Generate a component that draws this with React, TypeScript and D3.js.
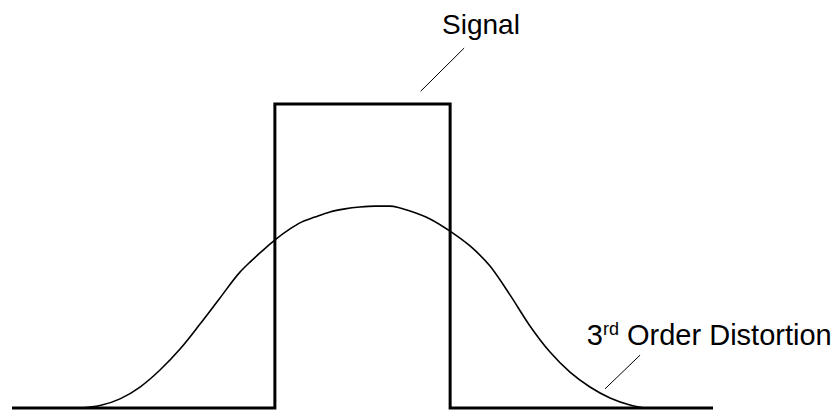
import React, { useEffect, useRef } from 'react'
import * as d3 from 'd3'

// signal: ideal rectangular band (x in arbitrary frequency units, y relative amplitude)
const signalX = [0, 37.5, 37.5, 62.5, 62.5, 100]
const signalY = [0, 0, 1, 1, 0, 0]

// 3rd order distortion spectrum
const distX = [9.7, 12.55, 15.41, 18.26, 21.11, 23.97, 26.82, 29.67, 32.52, 33.95, 35.38, 37.52, 39.66, 41.08, 43.22, 45.36, 47.5, 49.64, 51.78, 53.92, 55.35, 56.78, 59.63, 62.48, 65.34, 68.19, 71.04, 73.89, 76.75, 79.6, 82.45, 85.31, 88.16, 90.3]
const distY = [0, 0.008, 0.03, 0.069, 0.125, 0.194, 0.276, 0.362, 0.447, 0.48, 0.51, 0.553, 0.589, 0.609, 0.628, 0.645, 0.655, 0.661, 0.664, 0.664, 0.658, 0.648, 0.622, 0.582, 0.533, 0.467, 0.372, 0.27, 0.184, 0.118, 0.069, 0.033, 0.01, 0]

// annotations in data units: label anchor and leader line ends
const signalLabel = { text: 'Signal', x: 66.9, y: 1.23, lx1: 64.5, ly1: 1.184, lx2: 58.3, ly2: 1.042 }
const distLabel = { x: 82.0, y: 0.207, lx1: 89.6, ly1: 0.174, lx2: 84.6, ly2: 0.063 }

const W = 836
const H = 410

export default function App() {
  const ref = useRef<SVGSVGElement>(null)

  useEffect(() => {
    const svg = d3.select(ref.current)
    svg.selectAll('*').remove()

    const x = d3.scaleLinear().domain([0, 100]).range([12, 713])
    const y = d3.scaleLinear().domain([0, 1]).range([408, 104])

    const line = d3.line<[number, number]>().x(d => x(d[0])).y(d => y(d[1]))

    // signal band
    svg.append('path')
      .attr('d', line(signalX.map((v, i) => [v, signalY[i]]) as [number, number][]))
      .attr('fill', 'none')
      .attr('stroke', '#000')
      .attr('stroke-width', 3)
      .attr('stroke-linejoin', 'miter')

    // distortion curve
    const curve = d3.line<[number, number]>().x(d => x(d[0])).y(d => y(d[1])).curve(d3.curveMonotoneX)
    svg.append('path')
      .attr('d', curve(distX.map((v, i) => [v, distY[i]]) as [number, number][]))
      .attr('fill', 'none')
      .attr('stroke', '#000')
      .attr('stroke-width', 1.6)

    const font = 'Arial, "Liberation Sans", Helvetica, sans-serif'

    // Signal label + leader
    svg.append('text')
      .attr('x', x(signalLabel.x))
      .attr('y', y(signalLabel.y))
      .attr('text-anchor', 'middle')
      .style('font-family', font)
      .style('font-size', '28px')
      .text(signalLabel.text)
    svg.append('line')
      .attr('x1', x(signalLabel.lx1)).attr('y1', y(signalLabel.ly1))
      .attr('x2', x(signalLabel.lx2)).attr('y2', y(signalLabel.ly2))
      .attr('stroke', '#000')
      .attr('stroke-width', 1)

    // distortion label with superscript
    const t = svg.append('text')
      .attr('x', x(distLabel.x))
      .attr('y', y(distLabel.y))
      .style('font-family', font)
      .style('font-size', '29px')
    t.append('tspan').text('3')
    t.append('tspan').attr('dy', -10).style('font-size', '18px').text('rd')
    t.append('tspan').attr('dy', 10).text(' Order Distortion')
    svg.append('line')
      .attr('x1', x(distLabel.lx1)).attr('y1', y(distLabel.ly1))
      .attr('x2', x(distLabel.lx2)).attr('y2', y(distLabel.ly2))
      .attr('stroke', '#000')
      .attr('stroke-width', 1)
  }, [])

  return (
    <svg ref={ref} width={W} height={H}
      style={{ position: 'absolute', left: 0, top: 0, background: '#fff' }} />
  )
}
